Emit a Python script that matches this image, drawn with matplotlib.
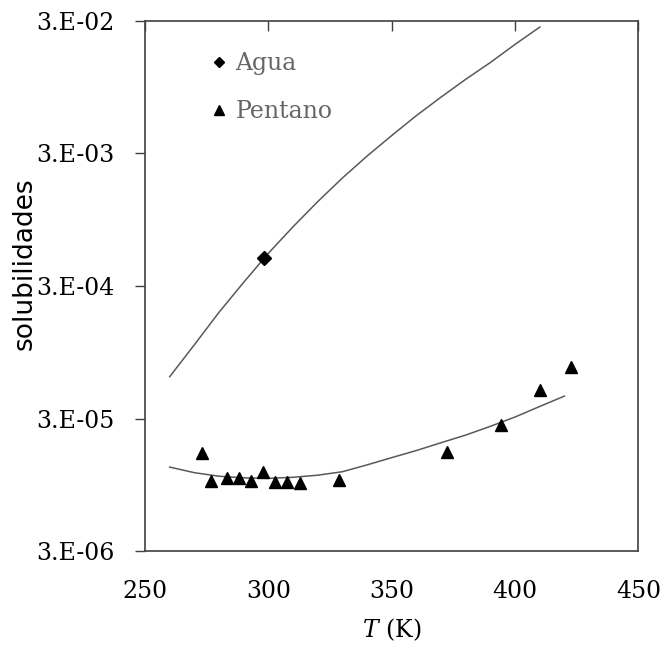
import matplotlib
matplotlib.use('Agg')
import matplotlib.pyplot as plt
from matplotlib.ticker import FixedLocator, FixedFormatter, NullLocator

plt.rcParams['font.family'] = ['DejaVu Serif']
plt.rcParams['mathtext.fontset'] = 'dejavuserif'

# solubilidad del agua en pentano (punto experimental y correlacion)
agua_T = [298.15]
agua_x = [4.85e-4]
agua_fit_T = [260, 270, 280, 290, 300, 310, 320, 330, 340, 350, 360, 370, 380, 390, 400, 410]
agua_fit_x = [6.2e-5, 1.08e-4, 1.9e-4, 3.2e-4, 5.3e-4, 8.4e-4, 1.3e-3, 1.96e-3, 2.87e-3, 4.1e-3,
              5.8e-3, 8.0e-3, 1.09e-2, 1.46e-2, 2.0e-2, 2.7e-2]

# solubilidad del pentano en agua
pent_T = [273.0, 276.6, 283.1, 288.1, 292.8, 297.9, 302.7, 307.7, 312.8, 328.8, 372.3, 394.2, 410.1, 422.6]
pent_x = [1.64e-5, 1.02e-5, 1.06e-5, 1.06e-5, 1.02e-5, 1.19e-5, 9.9e-6, 9.9e-6, 9.73e-6, 1.03e-5,
          1.69e-5, 2.68e-5, 4.92e-5, 7.38e-5]
pent_fit_T = [260, 270, 280, 290, 300, 310, 320, 330, 340, 350, 360, 370, 380, 390, 400, 410, 420]
pent_fit_x = [1.29e-5, 1.17e-5, 1.10e-5, 1.07e-5, 1.06e-5, 1.08e-5, 1.12e-5, 1.19e-5, 1.34e-5, 1.52e-5,
              1.72e-5, 1.97e-5, 2.25e-5, 2.62e-5, 3.08e-5, 3.7e-5, 4.43e-5]

yticks = [3e-6, 3e-5, 3e-4, 3e-3, 3e-2]
ylabels = ['3.E-06', '3.E-05', '3.E-04', '3.E-03', '3.E-02']
xticks = [250, 300, 350, 400, 450]

fig = plt.figure(figsize=(6.65, 6.49), dpi=100)
ax = fig.add_axes([145 / 665, 1 - 551 / 649, 493.5 / 665, 530 / 649])

line_c = '#595959'
ax.plot(agua_fit_T, agua_fit_x, color=line_c, lw=1.1)
ax.plot(pent_fit_T, pent_fit_x, color=line_c, lw=1.1)
ax.plot(agua_T, agua_x, 'kD', ms=7, ls='none')
ax.plot(pent_T, pent_x, 'k^', ms=9, ls='none')

ax.set_yscale('log')
ax.set_xlim(250, 450)
ax.set_ylim(3e-6, 3e-2)
ax.yaxis.set_major_locator(FixedLocator(yticks))
ax.yaxis.set_major_formatter(FixedFormatter(ylabels))
ax.yaxis.set_minor_locator(NullLocator())
ax.set_xticks(xticks)
ax.tick_params(axis='y', direction='out', length=7, width=1, color='#404040',
               labelsize=17, pad=15)
ax.tick_params(axis='x', which='both', bottom=False, top=True, direction='in', length=7,
               width=1, color='#404040', labelsize=17, pad=21, labelbottom=True)
for s in ax.spines.values():
    s.set_color('#404040')
    s.set_linewidth(1.2)

# leyenda hecha a mano
ax.plot([0.150], [0.922], 'kD', ms=5.5, transform=ax.transAxes)
ax.plot([0.150], [0.832], 'k^', ms=7, transform=ax.transAxes)
ax.text(0.183, 0.920, 'Agua', transform=ax.transAxes, fontsize=17, color='#666666', va='center')
ax.text(0.183, 0.830, 'Pentano', transform=ax.transAxes, fontsize=17, color='#666666', va='center')

fig.text(25 / 665, 1 - 264 / 649, 'solubilidades', rotation=90, ha='center', va='center',
         fontsize=19, family=['DejaVu Sans'])
fig.text(391.75 / 665, 1 - 630 / 649, '$T$ (K)', ha='center', va='center', fontsize=17)

fig.savefig('out.png', dpi=100)
